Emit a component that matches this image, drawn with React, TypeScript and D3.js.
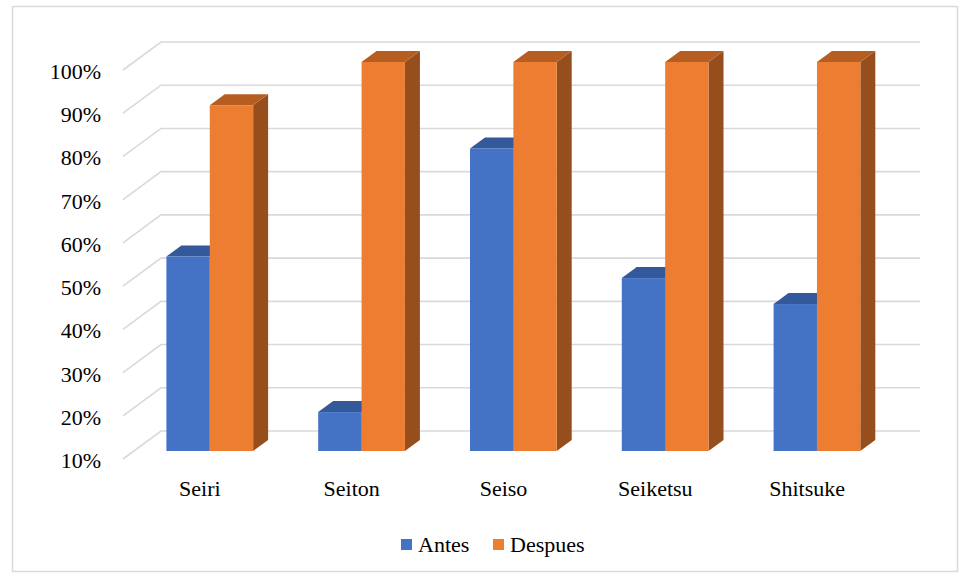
import React from "react";
import * as d3 from "d3";

const categories = ["Seiri", "Seiton", "Seiso", "Seiketsu", "Shitsuke"];
const antes = [55, 19, 80, 50, 44];
const despues = [90, 100, 100, 100, 100];
const yTicks = [10, 20, 30, 40, 50, 60, 70, 80, 90, 100];
const seriesNames = ["Antes", "Despues"];

const W = 961;
const H = 577;

const frontLeft = 123;
const frontRight = 882;
const depthDX = 38;
const depthDY = -28;
const z0 = 0.286;
const z1 = 0.68;

const colors = [
  { front: "#4472C4", top: "#34599B", side: "#2C4D87" },
  { front: "#ED7D31", top: "#B65E22", side: "#974E1D" },
];

const FONT = "Liberation Serif";
const textStyle = { fontFamily: FONT };

export default function App() {
  const yFront = d3.scaleLinear().domain([10, 100]).range([459, 70]);
  const x = d3.scaleBand<string>().domain(categories).range([frontLeft, frontRight]).padding(0);
  const bw = x.bandwidth() / 3.5;

  const pt = (px: number, py: number, z: number): [number, number] => [px + depthDX * z, py + depthDY * z];

  const bars: JSX.Element[] = [];
  categories.forEach((c, i) => {
    [antes, despues].forEach((arr, s) => {
      const v = arr[i];
      const xl = (x(c) as number) + 0.75 * bw + s * bw;
      const xr = xl + bw;
      const [fx0, fyTop] = pt(xl, yFront(v), z0);
      const [fx1] = pt(xr, yFront(v), z0);
      const [, fyBot] = pt(xl, yFront(10), z0);
      const ddx = depthDX * (z1 - z0);
      const ddy = depthDY * (z1 - z0);
      const col = colors[s];
      bars.push(
        <g key={`${c}-${s}`}>
          <polygon
            points={`${fx1},${fyTop} ${fx1 + ddx},${fyTop + ddy} ${fx1 + ddx},${fyBot + ddy} ${fx1},${fyBot}`}
            fill={col.side}
          />
          <polygon
            points={`${fx0},${fyTop} ${fx1},${fyTop} ${fx1 + ddx},${fyTop + ddy} ${fx0 + ddx},${fyTop + ddy}`}
            fill={col.top}
          />
          <rect x={fx0} y={fyTop} width={fx1 - fx0} height={fyBot - fyTop} fill={col.front} />
        </g>
      );
    });
  });

  return (
    <svg width={W} height={H} style={{ position: "absolute", left: 0, top: 0, background: "#fff" }}>
      <rect x={12.5} y={6.5} width={945} height={565} fill="#fff" stroke="#D9D9D9" strokeWidth={1.5} />
      <g stroke="#D9D9D9" strokeWidth={1.6} fill="none">
        {yTicks.map((t) => {
          const [bx, by] = pt(frontLeft, yFront(t), 1);
          const [bx2] = pt(frontRight, yFront(t), 1);
          return <polyline key={t} points={`${frontLeft},${yFront(t)} ${bx},${by} ${bx2},${by}`} />;
        })}
      </g>
      {bars}
      <g fill="#000" textAnchor="end">
        {yTicks.map((t) => (
          <text key={t} x={101} y={yFront(t) + 9} fontSize={22} fontFamily={FONT} style={textStyle}>
            {t}%
          </text>
        ))}
      </g>
      <g fill="#000" textAnchor="middle">
        {categories.map((c) => (
          <text key={c} x={(x(c) as number) + x.bandwidth() / 2 + 1} y={496} fontSize={22} fontFamily={FONT} style={textStyle}>
            {c}
          </text>
        ))}
      </g>
      <g fill="#000">
        <rect x={401} y={539} width={11} height={11} fill={colors[0].front} />
        <text x={418} y={552} fontSize={22} fontFamily={FONT} style={textStyle}>{seriesNames[0]}</text>
        <rect x={493} y={539} width={11} height={11} fill={colors[1].front} />
        <text x={510} y={552} fontSize={22} fontFamily={FONT} style={textStyle}>{seriesNames[1]}</text>
      </g>
    </svg>
  );
}
